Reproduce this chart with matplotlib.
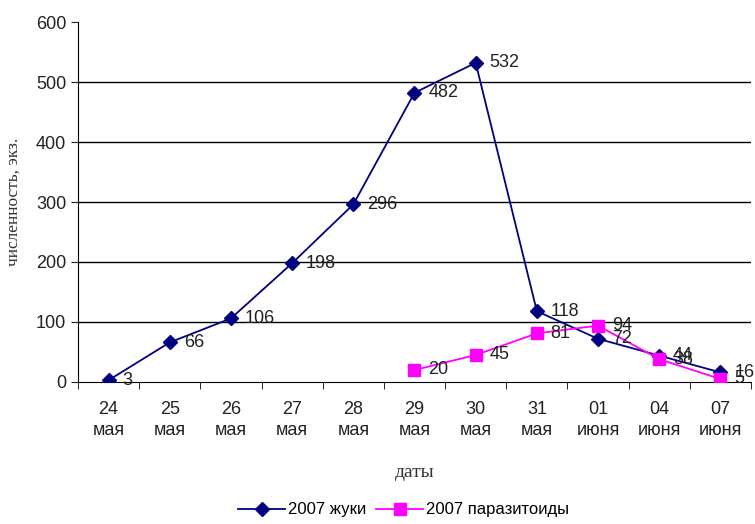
import matplotlib
matplotlib.use("Agg")
import matplotlib.pyplot as plt
import numpy as np

plt.rcParams['font.family'] = ['Liberation Sans', 'DejaVu Sans']

dates = ["24\nмая", "25\nмая", "26\nмая", "27\nмая", "28\nмая", "29\nмая",
         "30\nмая", "31\nмая", "01\nиюня", "04\nиюня", "07\nиюня"]
beetles = [3, 66, 106, 198, 296, 482, 532, 118, 72, 44, 16]
# parasitoids start from 29 May
paras_idx = [5, 6, 7, 8, 9, 10]
parasitoids = [20, 45, 81, 94, 38, 5]

fig = plt.figure(figsize=(7.55, 5.24), dpi=100)
ax = fig.add_axes([0.1033, 0.271, 0.8914, 0.687])

x = np.arange(len(dates))
ax.plot(x, beetles, color='#000080', marker='D', markersize=7, lw=1.3,
        label='2007 жуки', zorder=3)
ax.plot(paras_idx, parasitoids, color='#FF00FF', marker='s', markersize=9, lw=1.3,
        label='2007 паразитоиды', zorder=3)

for xi, v in zip(x, beetles):
    ax.annotate(str(v), (xi, v), xytext=(10, 0), textcoords='offset points',
                ha='left', va='center', fontsize=13, color='#222222')
for xi, v in zip(paras_idx, parasitoids):
    ax.annotate(str(v), (xi, v), xytext=(10, 0), textcoords='offset points',
                ha='left', va='center', fontsize=13, color='#222222')

ax.set_xlim(-0.5, len(dates) - 0.5)
ax.set_ylim(0, 600)
ax.set_yticks(range(0, 601, 100))
ax.set_xticks(x)
ax.set_xticklabels(dates, fontsize=13, color='#222222', linespacing=1.3)
ax.set_xticks(np.arange(-0.5, len(dates)), minor=True)
ax.tick_params(axis='x', which='major', length=0, pad=14)
ax.tick_params(axis='x', which='minor', length=5, direction='out')
ax.tick_params(axis='y', labelsize=13, colors='#222222', length=5)
for yv in range(100, 501, 100):
    ax.axhline(yv, color='black', lw=1, zorder=1)

ax.spines['top'].set_visible(False)
ax.spines['right'].set_visible(False)

ax.set_ylabel('численность, экз.', family='Liberation Serif', fontsize=12.5, color='#333333', labelpad=10)
ax.set_xlabel('даты', family='Liberation Serif', fontsize=14, color='#333333', labelpad=18)

fig.legend(loc='lower center', bbox_to_anchor=(0.535, -0.016), ncol=2, frameon=False,
           fontsize=12, handlelength=2.8, columnspacing=0.6, handletextpad=0.2)

fig.savefig("out.png", dpi=100)
